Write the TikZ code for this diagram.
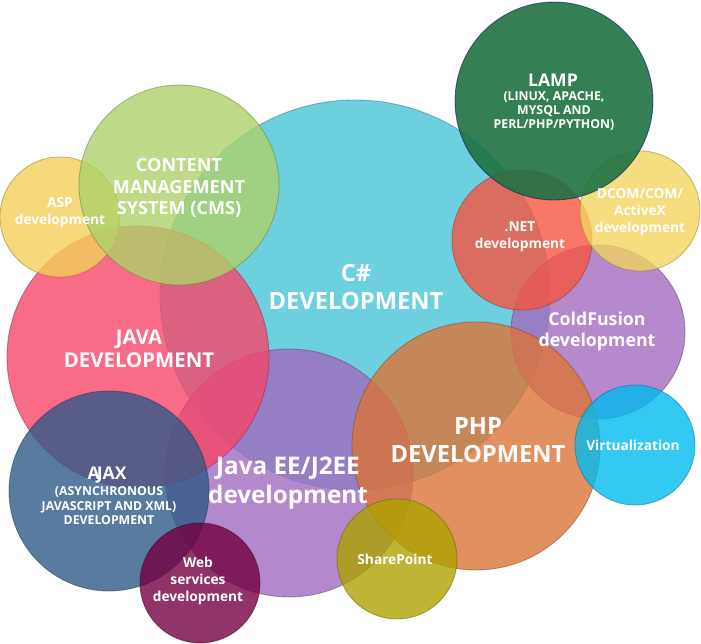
\documentclass[tikz,border=0pt]{standalone}
\usepackage{fontspec}
\setmainfont{Open Sans}
\usepackage{tikz}

\definecolor{csharpc}{HTML}{48C4D6}
\definecolor{javaeec}{HTML}{A16ABF}
\definecolor{javac}{HTML}{F64769}
\definecolor{aspc}{HTML}{F2CF5A}
\definecolor{cmsc}{HTML}{AED16A}
\definecolor{ajaxc}{HTML}{315A88}
\definecolor{webc}{HTML}{730042}
\definecolor{coldc}{HTML}{A46ABF}
\definecolor{phpc}{HTML}{DC7438}
\definecolor{netc}{HTML}{F65540}
\definecolor{dcomc}{HTML}{F2D460}
\definecolor{lampc}{HTML}{1F7143}
\definecolor{virtc}{HTML}{00BBEF}
\definecolor{sharec}{HTML}{ACA200}

\begin{document}
\begin{tikzpicture}[x=0.02cm, y=-0.02cm,
        bubble/.style={fill=#1, fill opacity=0.8, draw=#1!60!black, draw opacity=0.5, line width=0.5pt},
        txtbig/.style={text=white, align=center, font=\fontsize{13.5}{16.2}\selectfont\bfseries},
        txtmid/.style={text=white, align=center, font=\fontsize{10.1}{12}\selectfont\bfseries},
        txtsmall/.style={text=white, align=center, font=\fontsize{7.8}{9.7}\selectfont\bfseries},
        txtsub/.style={text=white, align=center, font=\fontsize{7}{8.2}\selectfont\bfseries}]
        \useasboundingbox (0,0) rectangle (701,644);
        \coordinate (csharp) at (355,295);
        \coordinate (javaee) at (289,473);
        \coordinate (java) at (138,357);
        \coordinate (asp) at (60,217);
        \coordinate (cms) at (179,185);
        \coordinate (ajax) at (109,491);
        \coordinate (websvc) at (200,583);
        \coordinate (coldfus) at (598,332);
        \coordinate (php) at (476,446);
        \coordinate (dotnet) at (522,240);
        \coordinate (dcom) at (640,211);
        \coordinate (lamp) at (554,101);
        \coordinate (virt) at (635,445);
        \coordinate (sharept) at (397,559);
        % circles, back to front
        \draw[bubble=csharpc] (csharp) circle (195);
        \draw[bubble=javaeec] (javaee) circle (124);
        \draw[bubble=javac] (java) circle (131);
        \draw[bubble=aspc] (asp) circle (60);
        \draw[bubble=cmsc] (cms) circle (100);
        \draw[bubble=ajaxc] (ajax) circle (100);
        \draw[bubble=webc] (websvc) circle (60);
        \draw[bubble=coldc] (coldfus) circle (87);
        \draw[bubble=phpc] (php) circle (124);
        \draw[bubble=netc] (dotnet) circle (70);
        \draw[bubble=dcomc] (dcom) circle (60);
        \draw[bubble=lampc, fill opacity=0.9, draw=black!60!blue] (lamp) circle (99);
        \draw[bubble=virtc] (virt) circle (60);
        \draw[bubble=sharec] (sharept) circle (60);
        % labels
        \node[txtbig] (csharp-t) at (356,287) {C\#\\DEVELOPMENT};
        \node[txtbig] (php-t) at (478,440) {PHP\\DEVELOPMENT};
        \node[txtbig, font=\fontsize{13.8}{16.5}\selectfont\bfseries] (javaee-t) at (288,483) {Java EE/J2EE\\development};
        \node[txtbig, font=\fontsize{11.6}{13.2}\selectfont\bfseries] (java-t) at (139,349) {JAVA\\DEVELOPMENT};
        \node[txtmid, font=\fontsize{10.3}{12.2}\selectfont\bfseries] (cms-t) at (179,188) {CONTENT\\MANAGEMENT\\SYSTEM (CMS)};
        \node[txtmid] (coldfus-t) at (597,331) {ColdFusion\\development};
        \node[txtsmall] (asp-t) at (60,213) {ASP\\development};
        \node[txtsmall] (dotnet-t) at (520,237) {.NET\\development};
        \node[txtsmall] (dcom-t) at (640,212) {DCOM/COM/\\ActiveX\\development};
        \node[txtsmall] (virt-t) at (633,445) {Virtualization};
        \node[txtsmall] (sharept-t) at (395,559) {SharePoint};
        \node[txtsmall] (websvc-t) at (198,581) {Web\\services\\development};
        \node[txtmid, font=\fontsize{10}{12}\selectfont\bfseries] (lamp-t) at (553,80) {LAMP};
        \node[txtsub] (lamp-s) at (554,111) {(LINUX, APACHE,\\MYSQL AND\\PERL/PHP/PYTHON)};
        \node[txtmid, font=\fontsize{10}{12}\selectfont\bfseries] (ajax-t) at (107,475) {A\kern-1.6pt JAX};
        \node[txtsub] (ajax-s) at (109,506) {(ASYNCHRONOUS\\JAVASCRIPT AND XML)\\DEVELOPMENT};
    \end{tikzpicture}
\end{document}
